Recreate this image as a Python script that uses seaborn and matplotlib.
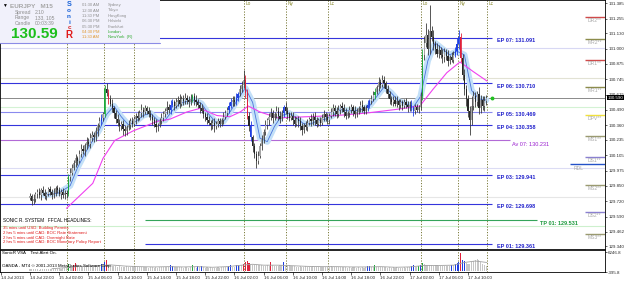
import matplotlib
matplotlib.use("Agg")
import matplotlib.pyplot as plt
import matplotlib.transforms as mtransforms
from matplotlib.patches import Rectangle
from matplotlib.lines import Line2D
import seaborn as sns
import numpy as np
import pandas as pd

# ---------------- data ----------------
# time axis: hours since 14 Jul 2013 00:00 (broker time), M15 bars
FIRST_BAR_HOUR = 22.0
BAR_HOURS = 0.25
FIRST_OPEN = 129.75

# closes in pips above 129.00 (price = 129 + pips/100), one row per hour
close_pips = [
    76, 72, 74, 78,  80, 77, 81, 79,  76, 78, 82, 80,  77, 79, 83, 81,
    78, 80, 77, 79,  78, 92, 96, 100, 104, 108, 106, 112, 116, 114, 119, 122,
    120, 125, 128, 126, 131, 136, 139, 142, 145, 166, 163, 158, 154, 150, 146, 141,
    138, 135, 137, 133, 131, 134, 136, 139, 137, 141, 144, 142, 146, 149, 147, 150,
    148, 145, 143, 140, 137, 134, 136, 139, 142, 145, 148, 151, 149, 153, 155, 152,
    155, 157, 154, 158, 156, 159, 157, 155, 158, 160, 157, 155, 153, 150, 148, 145,
    143, 140, 138, 136, 138, 135, 137, 139, 137, 140, 143, 146, 149, 152, 155, 157,
    155, 159, 162, 166, 170, 174, 163, 144, 135, 126, 118, 112, 106, 110, 118, 124,
    130, 136, 140, 143, 146, 142, 145, 148, 144, 141, 146, 151, 148, 145, 142, 144,
    140, 137, 141, 139, 135, 132, 136, 134, 138, 141, 139, 143, 140, 137, 140, 138,
    142, 145, 143, 140, 144, 147, 150, 148, 145, 149, 152, 150, 147, 144, 146, 149,
    151, 148, 145, 147, 150, 153, 151, 148, 150, 153, 156, 158, 161, 164, 168, 172,
    170, 174, 171, 166, 162, 158, 155, 157, 154, 156, 153, 155, 152, 155, 153, 151,
    153, 150, 148, 151, 149, 151, 160, 195, 205, 212, 200, 215, 210, 204, 200, 196,
    199, 195, 193, 197, 194, 190, 193, 191, 195, 198, 204, 210, 192, 178, 166, 158,
    148, 140, 152, 160, 155, 162, 150, 157, 152, 156, 159,
]
wick_up_pips = [
    3, 2, 4, 2, 2, 3, 2, 4, 3, 2, 2, 3, 2, 4, 2, 3,
    3, 2, 3, 2, 2, 3, 4, 3, 3, 4, 2, 3, 4, 3, 2, 4,
    3, 4, 3, 2, 3, 2, 4, 3, 2, 4, 5, 3, 3, 4, 2, 3,
    4, 3, 2, 3, 3, 2, 4, 3, 4, 3, 2, 4, 3, 5, 2, 3,
    2, 3, 4, 2, 3, 4, 2, 3, 4, 3, 2, 5, 3, 4, 3, 2,
    4, 3, 5, 2, 3, 4, 2, 3, 4, 2, 3, 4, 3, 2, 4, 3,
    2, 3, 4, 2, 3, 4, 2, 3, 3, 2, 4, 3, 2, 3, 4, 3,
    3, 4, 2, 4, 3, 8, 4, 3, 3, 4, 2, 3, 2, 4, 3, 4,
    3, 4, 2, 3, 4, 3, 2, 4, 3, 4, 3, 2, 4, 3, 2, 3,
    3, 4, 2, 3, 4, 3, 2, 3, 3, 2, 4, 3, 4, 3, 2, 3,
    3, 4, 2, 3, 2, 3, 4, 3, 3, 4, 2, 3, 4, 3, 2, 3,
    3, 2, 4, 3, 2, 3, 4, 2, 3, 4, 2, 3, 4, 3, 2, 4,
    3, 4, 3, 2, 4, 3, 2, 3, 3, 4, 2, 3, 2, 3, 4, 3,
    3, 4, 2, 3, 3, 2, 4, 5, 6, 10, 5, 22, 4, 6, 3, 5,
    4, 3, 5, 4, 3, 5, 2, 4, 3, 4, 5, 6, 3, 4, 5, 4,
    3, 4, 8, 5, 4, 3, 6, 4, 3, 4, 2,
]
wick_dn_pips = [
    2, 3, 2, 3, 3, 2, 4, 2, 2, 3, 2, 3, 3, 2, 3, 2,
    2, 4, 2, 3, 3, 2, 3, 2, 2, 3, 4, 2, 3, 2, 4, 3,
    2, 3, 2, 4, 3, 4, 2, 3, 3, 2, 3, 4, 2, 3, 4, 3,
    3, 4, 3, 5, 4, 3, 2, 3, 3, 2, 4, 3, 2, 3, 4, 2,
    3, 2, 3, 4, 3, 4, 3, 2, 2, 3, 2, 3, 3, 4, 2, 3,
    2, 3, 4, 2, 3, 2, 3, 4, 2, 3, 4, 3, 3, 4, 2, 3,
    4, 3, 2, 4, 3, 5, 2, 3, 3, 2, 3, 2, 2, 3, 2, 3,
    3, 2, 3, 2, 2, 3, 4, 3, 4, 3, 5, 4, 6, 3, 2, 3,
    3, 2, 3, 4, 3, 4, 2, 3, 4, 3, 2, 3, 3, 4, 3, 2,
    4, 3, 2, 5, 3, 4, 3, 2, 3, 2, 4, 3, 4, 3, 2, 3,
    2, 3, 4, 3, 3, 2, 3, 4, 3, 2, 4, 3, 4, 3, 2, 3,
    3, 4, 3, 2, 2, 3, 4, 3, 3, 2, 3, 2, 2, 3, 2, 3,
    3, 2, 4, 3, 3, 4, 2, 3, 2, 3, 4, 3, 3, 2, 3, 4,
    3, 2, 4, 3, 2, 3, 2, 3, 4, 3, 5, 4, 3, 5, 4, 3,
    4, 3, 5, 4, 3, 4, 3, 2, 3, 2, 3, 4, 3, 4, 5, 6,
    5, 12, 4, 3, 4, 3, 5, 4, 3, 4, 3,
]
# tick volume in hundreds
volume_x100 = [
    6, 5, 7, 6, 5, 4, 6, 5, 6, 7, 5, 6, 7, 6, 5, 7,
    8, 7, 9, 8, 10, 24, 16, 14, 20, 26, 15, 14, 13, 15, 12, 14,
    13, 15, 14, 13, 15, 17, 19, 22, 24, 30, 36, 20, 18, 17, 16, 15,
    14, 15, 13, 12, 14, 15, 13, 14, 16, 14, 15, 13, 12, 14, 12, 13,
    12, 11, 13, 12, 11, 12, 10, 12, 13, 12, 14, 12, 14, 18, 17, 13,
    12, 14, 12, 13, 11, 12, 12, 10, 12, 19, 12, 11, 16, 14, 17, 12,
    11, 12, 10, 12, 10, 11, 10, 12, 11, 12, 12, 13, 12, 16, 18, 14,
    14, 18, 20, 16, 18, 24, 28, 32, 26, 20, 18, 21, 19, 18, 20, 18,
    17, 15, 18, 16, 28, 18, 17, 17, 16, 18, 20, 30, 17, 16, 18, 17,
    15, 16, 14, 14, 15, 13, 14, 15, 14, 13, 13, 15, 13, 12, 14, 13,
    13, 14, 13, 12, 14, 15, 14, 13, 13, 14, 12, 13, 12, 13, 11, 13,
    11, 13, 12, 11, 12, 11, 13, 11, 12, 15, 17, 13, 12, 19, 14, 13,
    14, 13, 12, 14, 11, 13, 11, 12, 11, 12, 10, 11, 11, 12, 10, 12,
    12, 16, 18, 13, 12, 17, 18, 26, 22, 19, 18, 21, 19, 17, 19, 18,
    16, 17, 16, 15, 16, 15, 17, 19, 18, 22, 26, 30, 60, 38, 32, 26,
    24, 22, 28, 32, 36, 40, 38, 30, 24, 20, 16,
]
# VSA colouring of candles and volume bars (bar index -> signal)
candle_signal = {21: "g", 39: "b", 41: "g", 43: "r", 77: "b", 78: "b", 89: "g",
                 109: "b", 110: "b", 113: "b", 114: "b", 118: "r", 119: "r",
                 121: "b", 139: "b", 185: "b", 186: "b", 189: "g", 209: "b",
                 210: "b", 215: "g", 233: "b", 234: "b", 235: "b", 236: "r"}
volume_signal = {21: "g", 24: "r", 25: "r", 39: "b", 41: "b", 42: "r", 77: "b",
                 78: "b", 89: "g", 92: "b", 94: "b", 109: "b", 110: "b", 113: "b",
                 114: "b", 117: "r", 118: "r", 119: "r", 120: "r", 132: "r",
                 139: "b", 185: "b", 186: "b", 189: "g", 209: "b", 210: "b",
                 213: "g", 214: "b", 215: "g", 231: "b", 233: "b", 234: "b",
                 235: "b", 236: "r", 237: "b", 238: "b"}

# moving averages
ma_fast_hours = [24, 26, 27.5, 28.5, 29.5, 30.5, 31.5, 32.5, 33.5, 34.5, 35.5, 36.5,
                 37.5, 38.5, 39.5, 40.5, 41.5, 42.5, 43.5, 44.5, 45.5, 46.5, 47.5,
                 48.5, 49.5, 50.5, 51.5, 52.5, 53.5, 54.5, 55.5, 56.5, 57.5, 58.5,
                 59.5, 60.5, 61.5, 62.5, 63.5, 64.5, 65.5, 66.5, 67.5, 68.5, 69.5,
                 70.5, 71.5, 72.5, 73.5, 74.5, 75.5, 76.5, 77.5, 78.5, 79.5, 80.5,
                 81.5, 82.5, 83.5, 84.5]
ma_fast = [129.77, 129.79, 129.85, 130.00, 130.12, 130.22, 130.32, 130.45, 130.52,
           130.43, 130.36, 130.39, 130.44, 130.46, 130.40, 130.40, 130.48, 130.54,
           130.56, 130.57, 130.54, 130.45, 130.38, 130.39, 130.48, 130.58, 130.67,
           130.55, 130.25, 130.22, 130.35, 130.44, 130.46, 130.42, 130.37, 130.37,
           130.40, 130.41, 130.44, 130.49, 130.48, 130.48, 130.49, 130.52, 130.60,
           130.68, 130.63, 130.56, 130.54, 130.51, 130.60, 130.90, 131.05, 131.00,
           130.95, 130.98, 130.95, 130.65, 130.58, 130.57]
ma_slow_hours = [27.0, 30.6, 32.0, 33.6, 36.1, 39.4, 41.2, 43.5, 45.3, 47.6, 49.4,
                 50.8, 51.9, 53.5, 56.0, 60.0, 64.0, 68.0, 72.0, 75.4, 77.2, 79.1,
                 80.9, 82.7, 84.6]
ma_slow = [129.66, 129.87, 130.08, 130.23, 130.31, 130.39, 130.41, 130.47, 130.50,
           130.44, 130.43, 130.47, 130.52, 130.47, 130.42, 130.43, 130.44, 130.46,
           130.49, 130.52, 130.66, 130.80, 130.89, 130.81, 130.73]
vol_ma_hours = [25, 27, 29, 31, 33, 35, 37, 39, 41, 43, 45, 47, 49, 51, 52.5, 54, 56,
                58, 60, 62, 64, 66, 68, 70, 72, 74, 76, 78, 80, 81.5, 83, 84.6]
vol_ma = [700, 1100, 1500, 1600, 2000, 1600, 1400, 1300, 1400, 1300, 1400, 1200,
          1400, 1900, 2200, 1900, 1900, 1700, 1500, 1400, 1400, 1300, 1300, 1400,
          1200, 1300, 1800, 1800, 1900, 2800, 3300, 2800]

# horizontal levels
ep_names = ["EP 07", "EP 06", "EP 05", "EP 04", "EP 03", "EP 02", "EP 01"]
ep_levels = [131.091, 130.710, 130.469, 130.358, 129.941, 129.698, 129.361]
av_name, av_level = "Av 07", 130.231
tp_name, tp_level = "TP 01", 129.531
pivot_names = ["DR2**", "MR2**", "DR1**", "MR1**", "DPV**", "MS1**", "DS1**",
               "MS2**", "DS2**", "MS3**"]
pivot_levels = [131.270, 131.087, 130.904, 130.680, 130.446, 130.272, 130.089,
                129.856, 129.631, 129.448]
rdl_level = 130.030
faint_levels = [131.004, 130.754, 130.513, 129.997, 129.756, 129.515]
current_price = 130.59

price_ticks = [131.385, 131.255, 131.130, 131.000, 130.875, 130.745, 130.615, 130.490,
               130.360, 130.235, 130.105, 129.975, 129.850, 129.720, 129.590, 129.462,
               129.340]
vol_ticks = [-395.8, 6246.8]
xtick_hours = [18, 22, 26, 30, 34, 38, 42, 46, 50, 54, 58, 62, 66, 70, 74, 78, 82]
xtick_labels = ["14 Jul 2013", "14 Jul 22:00", "15 Jul 02:00", "15 Jul 06:00",
                "15 Jul 10:00", "15 Jul 14:00", "15 Jul 18:00", "15 Jul 22:00",
                "16 Jul 02:00", "16 Jul 06:00", "16 Jul 10:00", "16 Jul 14:00",
                "16 Jul 18:00", "16 Jul 22:00", "17 Jul 02:00", "17 Jul 06:00",
                "17 Jul 10:00"]
session_hours = [27.07, 32.14, 36.25, 51.32, 57.07, 62.82, 75.56, 80.63, 84.6]
session_tags = ["", "", "", "Lo", "Ny", "Lc", "Lo", "Ny", "Lc"]

box_times = ["01:30 AM", "12:30 AM", "11:30 PM", "06:30 PM", "05:30 PM", "04:30 PM", "11:30 AM"]
box_cities = ["Sydney", "Tokyo", "HongKong", "Helsinki", "Frankfurt", "London", "NewYork  (R)"]
headlines = ["35 mins until USD: Building Permits",
             "2 hrs 5 mins until CAD: BOC Rate Statement",
             "2 hrs 5 mins until CAD: Overnight Rate",
             "2 hrs 5 mins until CAD: BOC Monetary Policy Report"]

# ---------------- derived ----------------
n = len(close_pips)
t = FIRST_BAR_HOUR + np.arange(n) * BAR_HOURS
close = 129 + np.array(close_pips) / 100.0
open_ = np.r_[FIRST_OPEN, close[:-1]]
high = np.maximum(open_, close) + np.array(wick_up_pips) / 100.0
low = np.minimum(open_, close) - np.array(wick_dn_pips) / 100.0
vol = np.array(volume_x100) * 100.0

SIG = {"g": "#1fa83c", "b": "#1f3fe0", "r": "#e0203a"}

# ---------------- layout ----------------
sns.set_theme(style="white")
plt.rcParams["font.family"] = ["Liberation Sans", "DejaVu Sans"]
plt.rcParams["axes.linewidth"] = 0.6

W, H = 625, 282
fig = plt.figure(figsize=(W / 100, H / 100), dpi=100)
fig.patch.set_facecolor("white")
ax = fig.add_axes([0.0, 33 / H, 605 / W, 249 / H])
axv = fig.add_axes([0.0, 10 / H, 605 / W, 22 / H], sharex=ax)

XL = 22 - 30 / 7.3
XR = 22 + 575 / 7.3
ax.set_xlim(XL, XR)
ax.set_ylim(129.318, 131.411)
axv.set_ylim(vol_ticks[0], 7000)

def hx(px):
    return 22 + (px - 30) / 7.3

blend = mtransforms.blended_transform_factory(ax.transAxes, ax.transData)

# faint full-width levels
faint_cols = ["#d8d8f4", "#e2e2d4", "#d4f2d4", "#dcdcf4", "#e6e6e6", "#cdf0cd"]
for lv, c in zip(faint_levels, faint_cols):
    ax.axhline(lv, color=c, lw=0.8, zorder=1)

# session lines
for hh, tag in zip(session_hours, session_tags):
    for a in (ax, axv):
        a.axvline(hh, color="#7a7a3a", lw=0.7, ls=(0, (1.2, 1.6)), zorder=1)
    if tag:
        ax.text(hh + 0.25, 131.385, tag, fontsize=3.4, color="#8a8a30",
                va="center", ha="left", zorder=2)

# EP lines and labels
for nm, lv in zip(ep_names, ep_levels):
    col = "#8a8aee" if nm == "EP 05" else "#3434dc"
    x0 = hx(145) if nm == "EP 01" else XL
    ax.hlines(lv, x0, hx(492), color=col, lw=0.8, zorder=2)
    ax.text(hx(497), lv - 0.022, f"{nm}: {lv:.3f}", fontsize=4.0, color="#2222cc",
            fontweight="bold", va="center", ha="left", zorder=6, clip_on=True)

ax.hlines(av_level, XL, hx(510), color="#b26ad6", lw=0.8, zorder=2)
ax.text(hx(512), av_level - 0.035, f"{av_name}: {av_level:.3f}", fontsize=4.0,
        color="#9a1fcf", va="center", ha="left", zorder=6)
ax.hlines(tp_level + 0.03, hx(145), hx(537), color="#34a45a", lw=0.8, zorder=2)
ax.text(hx(540), tp_level + 0.002, f"{tp_name}: {tp_level:.3f}", fontsize=4.0,
        color="#1c9a3c", fontweight="bold", va="center", ha="left", zorder=6)

# current price line
ax.axhline(current_price, color="#8a8a8a", lw=0.7, zorder=2)

# pivot segments
piv_cols = {"DR": "#cf4a4a", "MR": "#8c8c4c", "DP": "#f0e03c", "MS": "#9a9a70",
            "DS": "#8a80d0"}
for nm, lv in zip(pivot_names, pivot_levels):
    ax.hlines(lv, hx(585), XR, color=piv_cols[nm[:2]], lw=1.0, zorder=3)
    ax.text(hx(588), lv - 0.03, nm, fontsize=3.6, color="#a8a8a8", va="center",
            ha="left", zorder=3)
ax.hlines(rdl_level, hx(570), XR, color="#2452c8", lw=1.0, zorder=3)
ax.text(hx(574), rdl_level - 0.035, "RDL", fontsize=3.6, color="#a8a8a8",
        va="center", ha="left", zorder=3)

# moving averages
sns.lineplot(x=ma_fast_hours, y=ma_fast, ax=ax, color="#c3e0f8", lw=4.5,
             zorder=3, legend=False)
sns.lineplot(x=ma_fast_hours, y=ma_fast, ax=ax, color="#4a74da", lw=0.6,
             zorder=4, legend=False)
sns.lineplot(x=ma_slow_hours, y=ma_slow, ax=ax, color="#f040f0", lw=0.8,
             zorder=4, legend=False)

# candles
body_col = []
for i in range(n):
    if i in candle_signal:
        body_col.append(SIG[candle_signal[i]])
    elif close[i] >= open_[i]:
        body_col.append("#a6a6a6")
    else:
        body_col.append("#262626")
wick_col = [SIG[candle_signal[i]] if i in candle_signal else "#3a3a3a" for i in range(n)]
ax.vlines(t, low, high, colors=wick_col, lw=0.6, zorder=5)
bottoms = np.minimum(open_, close)
heights = np.maximum(np.abs(close - open_), 0.006)
ax.bar(t, heights, bottom=bottoms, width=0.16, color=body_col, lw=0, zorder=5)

ax.plot([hx(492)], [current_price], marker="o", ms=1.8, color="#20c020",
        zorder=7, ls="none")

# volume panel
vcol = [SIG[volume_signal[i]] if i in volume_signal else "#c6c6c6" for i in range(n)]
axv.bar(t, vol, bottom=0, width=0.15, color=vcol, lw=0, zorder=3)
sns.lineplot(x=vol_ma_hours, y=vol_ma, ax=axv, color="#a0a0a0", lw=0.6,
             zorder=4, legend=False)

# axes styling
for a in (ax, axv):
    for s in a.spines.values():
        s.set_color("black")
        s.set_linewidth(0.6)
    a.set_facecolor("white")
    a.yaxis.tick_right()
    a.set_xlabel("")
    a.set_ylabel("")
ax.set_yticks(price_ticks)
ax.set_yticklabels([f"{v:.3f}" for v in price_ticks])
ax.tick_params(axis="y", labelsize=3.2, length=1.5, width=0.5, pad=0.8, right=True)
ax.tick_params(axis="x", bottom=False, labelbottom=False)
axv.set_yticks(vol_ticks)
axv.set_yticklabels([f"{v:.1f}" for v in vol_ticks])
axv.tick_params(axis="y", labelsize=3.2, length=1.5, width=0.5, pad=0.8, right=True)
axv.set_xticks(xtick_hours)
axv.set_xticklabels(xtick_labels, ha="left")
axv.tick_params(axis="x", labelsize=3.2, length=2, width=0.5, pad=1, bottom=True)

# current price tag
ax.text(1.004, current_price, f"{current_price:.3f}", transform=blend, fontsize=3.2,
        color="white", va="center", ha="left", zorder=8, clip_on=False,
        bbox=dict(boxstyle="square,pad=0.18", fc="black", ec="none"))

# ---------------- figure-level overlays ----------------
def F(x, y):
    return x / W, 1 - y / H

fig.add_artist(Rectangle(F(0, 43), 160 / W, 43 / H, transform=fig.transFigure,
                         facecolor="#f1f1fb", edgecolor="none", zorder=5))
fig.add_artist(Line2D([0, 160 / W], [1 - 43 / H] * 2, transform=fig.transFigure,
                      color="#8c8ce6", lw=0.8, zorder=6))
fig.text(*F(2, 5), "\u25bc", fontsize=3.5, color="black", va="center", zorder=7)
fig.text(*F(10, 6), "EURJPY   M15", fontsize=4.6, color="#a6a6a6",
         fontweight="bold", va="center", zorder=7)
for yy, lab, val in [(12.5, "Spread", "2.10"), (18, "Range", "133, 105"),
                     (23.5, "Candle", "00:03:39")]:
    fig.text(*F(15, yy), lab, fontsize=3.6, color="#8e8e8e", va="center", zorder=7)
    fig.text(*F(35, yy), val, fontsize=3.6, color="#8e8e8e", va="center", zorder=7)
fig.text(*F(11, 34), f"{current_price:.2f}", fontsize=11, color="#1cbf1c",
         fontweight="bold", va="center", zorder=7)
for ch, yy, c, fs in [("S", 5, "#1560d8", 5.2), ("o", 11, "#1560d8", 4.6),
                      ("n", 16.5, "#1560d8", 4.6), ("i", 22, "#1560d8", 4.6),
                      ("c", 27.5, "#d82020", 4.6), ("R", 35, "#e01818", 7.0)]:
    fig.text(*F(69, yy), ch, fontsize=fs, color=c, fontweight="bold",
             va="center", ha="center", zorder=7)
row_y = [5, 10.5, 16, 21, 26.5, 32, 37]
for k, (tm, ct, yy) in enumerate(zip(box_times, box_cities, row_y)):
    tc = "#e0962c" if k >= 5 else "#8e8e8e"
    cc = "#2aa82a" if k >= 5 else "#8e8e8e"
    fig.text(*F(82, yy), tm, fontsize=3.0, color=tc, va="center", zorder=7)
    fig.text(*F(108, yy), ct, fontsize=3.0, color=cc, va="center", zorder=7)

fig.text(*F(3, 220), "SONIC R. SYSTEM   FFCAL HEADLINES:", fontsize=3.3,
         color="black", va="center", zorder=7)
for k, hl in enumerate(headlines):
    fig.text(*F(3, 227.5 + 5 * k), hl, fontsize=3.1, color="#e01a1a",
             va="center", zorder=7)

fig.text(*F(2, 253.5), "SonicR VSA    Test Alert On.", fontsize=3.2, color="black",
         va="center", zorder=7)
fig.text(*F(2, 266.5), "OANDA - MT4 \u00a9 2001-2013 MetaQuotes Software Corp.",
         fontsize=3.2, color="black", va="center", zorder=7)

fig.savefig("out.png", dpi=100, facecolor="white")
